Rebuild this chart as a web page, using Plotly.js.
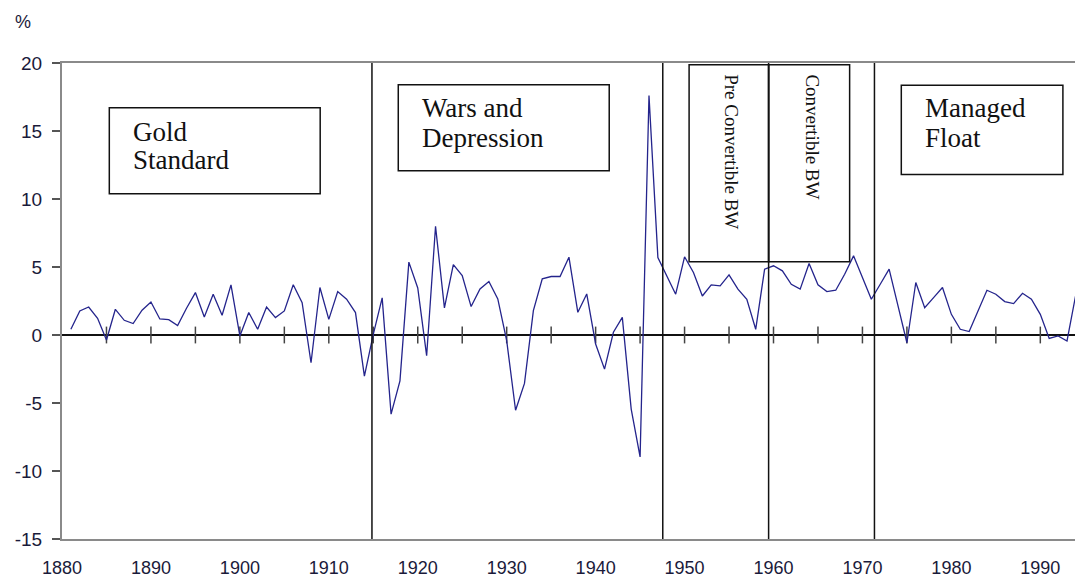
<!DOCTYPE html>
<html><head><meta charset="utf-8">
<script src="https://cdn.plot.ly/plotly-3.0.1.min.js"></script>
<style>html,body{margin:0;padding:0;background:#fff;}#chart{width:1075px;height:579px;}</style>
</head><body><div id="chart"></div>
<script>
// ---- data ----
const years = [
  1881,1882,1883,1884,1885,1886,1887,1888,1889,1890,
  1891,1892,1893,1894,1895,1896,1897,1898,1899,1900,
  1901,1902,1903,1904,1905,1906,1907,1908,1909,1910,
  1911,1912,1913,1914,1915,1916,1917,1918,1919,1920,
  1921,1922,1923,1924,1925,1926,1927,1928,1929,1930,
  1931,1932,1933,1934,1935,1936,1937,1938,1939,1940,
  1941,1942,1943,1944,1945,1946,1947,1948,1949,1950,
  1951,1952,1953,1954,1955,1956,1957,1958,1959,1960,
  1961,1962,1963,1964,1965,1966,1967,1968,1969,1970,
  1971,1972,1973,1974,1975,1976,1977,1978,1979,1980,
  1981,1982,1983,1984,1985,1986,1987,1988,1989,1990,
  1991,1992,1993,1994];
const inflation = [
  0.42,1.77,2.06,1.23,-0.37,1.89,1.08,0.84,1.82,2.43,
  1.18,1.13,0.69,1.97,3.12,1.33,3.0,1.45,3.69,-0.07,
  1.65,0.42,2.06,1.28,1.77,3.69,2.38,-2.04,3.49,1.15,
  3.19,2.63,1.65,-3.02,0.05,2.73,-5.82,-3.37,5.36,3.46,
  -1.52,7.99,1.99,5.18,4.37,2.09,3.39,3.93,2.65,-0.42,
  -5.53,-3.56,1.79,4.13,4.3,4.3,5.72,1.67,3.02,-0.66,
  -2.51,0.2,1.3,-5.45,-8.97,17.6,5.7,4.4,3.0,5.75,
  4.6,2.87,3.69,3.61,4.42,3.37,2.63,0.42,4.84,5.09,
  4.72,3.73,3.37,5.26,3.69,3.19,3.29,4.47,5.82,4.23,
  2.63,3.73,4.84,2.14,-0.57,3.86,2.01,2.75,3.49,1.52,
  0.42,0.25,1.77,3.29,3.0,2.46,2.31,3.07,2.63,1.52,
  -0.25,-0.07,-0.44,3.0];
const xTickVals = [1880,1890,1900,1910,1920,1930,1940,1950,1960,1970,1980,1990];
const yTickVals = [-15,-10,-5,0,5,10,15,20];
const zeroTickYears = [1885,1890,1895,1900,1905,1910,1915,1920,1925,1930,1935,1940,1945,1950,
  1955,1960,1965,1970,1975,1980,1985,1990];
const regimeBreaks = [1914.85, 1947.55, 1959.45, 1971.35];
const regimeLabels = ['Gold', 'Standard', 'Wars and', 'Depression', 'Managed', 'Float'];
const rotatedLabels = ['Pre Convertible BW', 'Convertible BW'];

// ---- chart ----
const serif = 'Liberation Serif, Times New Roman, serif';
const sans = 'Liberation Sans, Arial, sans-serif';

const traces = [
  {x: zeroTickYears, y: zeroTickYears.map(() => 0), type: 'scatter', mode: 'markers',
   marker: {symbol: 'line-ns-open', size: 12, color: '#444', line: {width: 1.5, color: '#444'}},
   hoverinfo: 'skip', showlegend: false},
  {x: years, y: inflation, type: 'scatter', mode: 'lines',
   line: {color: '#24248c', width: 1.3}, showlegend: false}
];

const shapes = regimeBreaks.map(b => ({type: 'line', xref: 'x', yref: 'paper', x0: b, x1: b, y0: 0, y1: 1,
  line: {color: '#111', width: 1.5}, layer: 'above'}));
const boxes = [
  [1885.32, 1909.03, 10.39, 16.71],
  [1917.81, 1941.53, 12.08, 18.40],
  [1950.51, 1959.45, 5.39, 19.87],
  [1959.45, 1968.56, 5.39, 19.87],
  [1974.37, 1992.54, 11.80, 18.36]
];
boxes.forEach(b => shapes.push({type: 'rect', xref: 'x', yref: 'y', x0: b[0], x1: b[1], y0: b[2], y1: b[3],
  line: {color: '#111', width: 1.5}, fillcolor: 'rgba(0,0,0,0)', layer: 'above'}));

const textPos = [[1887.8, 14.95], [1887.8, 12.89], [1920.3, 16.71], [1920.3, 14.51], [1976.85, 16.71], [1976.85, 14.51]];
const annotations = regimeLabels.map((t, i) => ({text: t, x: textPos[i][0], y: textPos[i][1], xref: 'x', yref: 'y',
  xanchor: 'left', yanchor: 'middle', showarrow: false, font: {family: serif, size: 27, color: '#111'}}));
const rotPos = [[1955.32, 19.3], [1964.40, 19.3]];
rotatedLabels.forEach((t, i) => annotations.push({text: t, x: rotPos[i][0], y: rotPos[i][1], xref: 'x', yref: 'y',
  xanchor: 'center', yanchor: 'top', textangle: 90, showarrow: false, font: {family: serif, size: 19, color: '#111'}}));
annotations.push({text: '%', xref: 'paper', yref: 'paper', x: -0.0385, y: 1.086, xanchor: 'center', yanchor: 'middle',
  showarrow: false, font: {family: sans, size: 18, color: '#1a1a3a'}});

const layout = {
  width: 1075, height: 579,
  margin: {l: 62, r: 0, t: 63, b: 40},
  paper_bgcolor: '#fff', plot_bgcolor: '#fff',
  showlegend: false,
  xaxis: {range: [1880, 1993.9], tickvals: xTickVals, ticktext: xTickVals.map(String), ticks: '',
    showgrid: false, zeroline: false, showline: true, linecolor: '#8a8a8a', linewidth: 2, mirror: true,
    tickfont: {family: sans, size: 18, color: '#1a1a3a'}, ticklabelstandoff: 11, automargin: false},
  yaxis: {range: [-15, 20], tickvals: yTickVals, ticktext: yTickVals.map(String), ticks: 'outside', ticklen: 8,
    tickcolor: '#555', tickwidth: 1.5, showgrid: false, zeroline: true, zerolinecolor: '#111', zerolinewidth: 1.5,
    showline: true, linecolor: '#8a8a8a', linewidth: 2,
    tickfont: {family: sans, size: 19, color: '#1a1a3a'}, ticklabelstandoff: 6, automargin: false},
  shapes: shapes,
  annotations: annotations
};
Plotly.newPlot('chart', traces, layout, {displayModeBar: false, staticPlot: true});
</script>
</body></html>
